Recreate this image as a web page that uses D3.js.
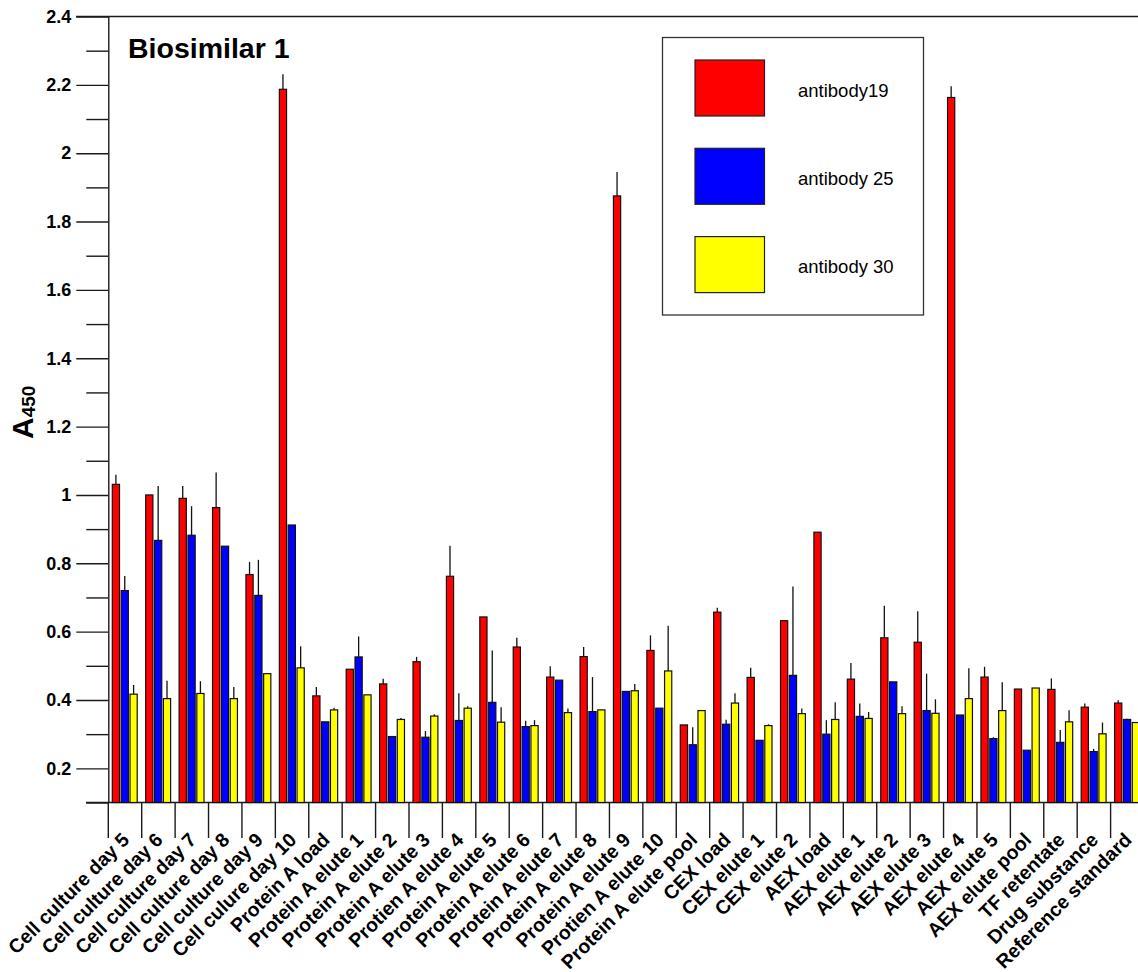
<!DOCTYPE html>
<html>
<head>
<meta charset="utf-8">
<script src="https://cdn.jsdelivr.net/npm/d3@7"></script>
<style>
  html, body { margin: 0; padding: 0; background: #fff; }
  svg { display: block; }
  text { font-family: "Liberation Sans", Arial, sans-serif; }
</style>
</head>
<body>
<svg id="chart" width="1138" height="972"></svg>
<script>
// ---------------- data ----------------
const categories = [
  "Cell culture day 5", "Cell culture day 6", "Cell culture day 7", "Cell culture day 8",
  "Cell culture day 9", "Cell culure day 10", "Protein A load", "Protein A elute 1",
  "Protein A elute 2", "Protein A elute 3", "Protien A elute 4", "Protein A elute 5",
  "Protein A elute 6", "Protein A elute 7", "Protein A elute 8", "Protein A elute 9",
  "Protien A elute 10", "Protein A elute pool", "CEX load", "CEX elute 1", "CEX elute 2",
  "AEX load", "AEX elute 1", "AEX elute 2", "AEX elute 3", "AEX elute 4", "AEX elute 5",
  "AEX elute pool", "TF retentate", "Drug substance", "Reference standard"
];
const seriesNames = ["antibody19", "antibody 25", "antibody 30"];
const seriesColors = ["#ff0000", "#0000ff", "#ffff00"];

const antibody19 = [1.031, 1.000, 0.990, 0.963, 0.767, 2.187, 0.412, 0.490, 0.447, 0.512,
  0.762, 0.643, 0.555, 0.467, 0.527, 1.875, 0.545, 0.327, 0.657, 0.466, 0.632,
  0.891, 0.461, 0.582, 0.569, 2.163, 0.467, 0.432, 0.431, 0.379, 0.391];
const antibody19Err = [0.028, 0.000, 0.036, 0.103, 0.037, 0.044, 0.026, 0.000, 0.015, 0.014,
  0.089, 0.000, 0.027, 0.032, 0.028, 0.070, 0.044, 0.000, 0.013, 0.028, 0.000,
  0.000, 0.047, 0.094, 0.091, 0.033, 0.030, 0.000, 0.032, 0.011, 0.008];

const antibody25 = [0.720, 0.867, 0.882, 0.850, 0.706, 0.912, 0.336, 0.526, 0.293, 0.291,
  0.340, 0.393, 0.322, 0.458, 0.366, 0.425, 0.376, 0.269, 0.329, 0.282, 0.472,
  0.300, 0.352, 0.453, 0.369, 0.356, 0.287, 0.253, 0.276, 0.249, 0.343];
const antibody25Err = [0.043, 0.159, 0.085, 0.000, 0.104, 0.000, 0.000, 0.060, 0.000, 0.018,
  0.080, 0.152, 0.017, 0.000, 0.101, 0.000, 0.000, 0.051, 0.013, 0.000, 0.260,
  0.041, 0.038, 0.000, 0.108, 0.000, 0.004, 0.000, 0.036, 0.008, 0.002];

const antibody30 = [0.417, 0.404, 0.419, 0.404, 0.477, 0.494, 0.371, 0.415, 0.343, 0.353,
  0.376, 0.335, 0.325, 0.363, 0.371, 0.427, 0.485, 0.369, 0.391, 0.325, 0.360,
  0.343, 0.346, 0.360, 0.361, 0.404, 0.369, 0.435, 0.336, 0.301, 0.334];
const antibody30Err = [0.027, 0.052, 0.036, 0.034, 0.000, 0.063, 0.006, 0.000, 0.004, 0.005,
  0.006, 0.044, 0.016, 0.012, 0.000, 0.020, 0.132, 0.000, 0.029, 0.004, 0.015,
  0.050, 0.019, 0.022, 0.041, 0.089, 0.083, 0.000, 0.034, 0.033, 0.000];

const majorTicks = [0.2, 0.4, 0.6, 0.8, 1.0, 1.2, 1.4, 1.6, 1.8, 2.0, 2.2, 2.4];
const minorTicks = [0.1, 0.3, 0.5, 0.7, 0.9, 1.1, 1.3, 1.5, 1.7, 1.9, 2.1, 2.3];

const titleText = "Biosimilar 1";

// ---------------- build ----------------
const values = [antibody19, antibody25, antibody30];
const errors = [antibody19Err, antibody25Err, antibody30Err];
const rows = [];
categories.forEach((c, i) => {
  seriesNames.forEach((s, j) => {
    rows.push({ cat: c, series: s, value: values[j][i], err: errors[j][i], color: seriesColors[j] });
  });
});

const svg = d3.select("#chart");
const axisX = 108.3, topY = 16.5, baseY = 802.5;
const bandW = 33.41;

const x = d3.scaleBand().domain(categories)
  .range([axisX, axisX + bandW * categories.length]).paddingInner(0).paddingOuter(0);
const xs = d3.scaleBand().domain(seriesNames).range([4, 28.9]).paddingInner(0.186).paddingOuter(0);
const y = d3.scaleLinear().domain([0.1, 2.4]).range([baseY, topY]);

const stroke = "#1a1a1a";

// top frame line
svg.append("line").attr("x1", 76).attr("x2", 1138).attr("y1", y(2.4)).attr("y2", y(2.4))
  .attr("stroke", stroke).attr("stroke-width", 1.4);

// y axis (major)
const yAxisMajor = d3.axisLeft(y).tickValues(majorTicks).tickSize(32).tickSizeOuter(0).tickPadding(5)
  .tickFormat(d => String(+d.toFixed(1)));
const gy = svg.append("g").attr("transform", `translate(${axisX},0)`).call(yAxisMajor);
gy.select(".domain").attr("stroke", stroke).attr("stroke-width", 1.4);
gy.selectAll(".tick line").attr("stroke", stroke).attr("stroke-width", 1.4);
gy.selectAll(".tick text").attr("font-size", 18).attr("font-weight", "bold").attr("fill", "#000")
  .style("font-family", '"Liberation Sans", Arial, sans-serif');

// y axis (minor)
const yAxisMinor = d3.axisLeft(y).tickValues(minorTicks).tickSize(22).tickSizeOuter(0).tickFormat("");
const gy2 = svg.append("g").attr("transform", `translate(${axisX},0)`).call(yAxisMinor);
gy2.select(".domain").remove();
gy2.selectAll(".tick line").attr("stroke", stroke).attr("stroke-width", 1.4);

// x axis baseline
svg.append("line").attr("x1", 86).attr("x2", 1138).attr("y1", y(0.1)).attr("y2", y(0.1))
  .attr("stroke", stroke).attr("stroke-width", 1.4);

// x ticks at band boundaries
svg.append("g").selectAll("line").data(categories).join("line")
  .attr("x1", d => x(d)).attr("x2", d => x(d))
  .attr("y1", y(0.1)).attr("y2", y(0.1) + 35.5)
  .attr("stroke", stroke).attr("stroke-width", 1.4);

// x labels
svg.append("g").selectAll("text").data(categories).join("text")
  .attr("transform", d => `translate(${x(d) + x.bandwidth() / 2 + 5.5},${y(0.1) + 38.5}) rotate(-45)`)
  .attr("text-anchor", "end")
  .attr("font-size", 19.5).attr("font-weight", "bold").attr("fill", "#000")
  .text(d => d);

// bars
const gb = svg.append("g");
gb.selectAll("rect").data(rows).join("rect")
  .attr("x", d => x(d.cat) + xs(d.series))
  .attr("width", xs.bandwidth())
  .attr("y", d => y(d.value))
  .attr("height", d => y(0.1) - y(d.value))
  .attr("fill", d => d.color)
  .attr("stroke", "#111").attr("stroke-width", 1.2);

// error bars
gb.selectAll("line.err").data(rows.filter(d => d.err > 0)).join("line")
  .attr("class", "err")
  .attr("x1", d => x(d.cat) + xs(d.series) + xs.bandwidth() / 2)
  .attr("x2", d => x(d.cat) + xs(d.series) + xs.bandwidth() / 2)
  .attr("y1", d => y(d.value))
  .attr("y2", d => y(d.value + d.err))
  .attr("stroke", "#111").attr("stroke-width", 1.3);

// title
svg.append("text").attr("x", 128).attr("y", 57.5)
  .attr("font-size", 28.5).attr("font-weight", "bold").attr("fill", "#000").text(titleText);

// y axis label A450
const yl = svg.append("text").attr("transform", "translate(33,439) rotate(-90)")
  .attr("font-weight", "bold").attr("fill", "#000");
yl.append("tspan").attr("font-size", 30).text("A");
yl.append("tspan").attr("font-size", 19).attr("dy", 2).text("450");

// legend
const lg = svg.append("g");
lg.append("rect").attr("x", 662.5).attr("y", 37.5).attr("width", 261).attr("height", 277.5)
  .attr("fill", "#fff").attr("stroke", "#333").attr("stroke-width", 1.3);
const li = lg.selectAll("g.item").data(seriesNames).join("g").attr("class", "item")
  .attr("transform", (d, i) => `translate(695,${60 + i * 88.3})`);
li.append("rect").attr("width", 69.5).attr("height", 56)
  .attr("fill", (d, i) => seriesColors[i]).attr("stroke", "#222").attr("stroke-width", 1.2);
li.append("text").attr("x", 103).attr("y", 36.5)
  .attr("font-size", 18.5).attr("fill", "#000").text(d => d);
</script>
</body>
</html>
